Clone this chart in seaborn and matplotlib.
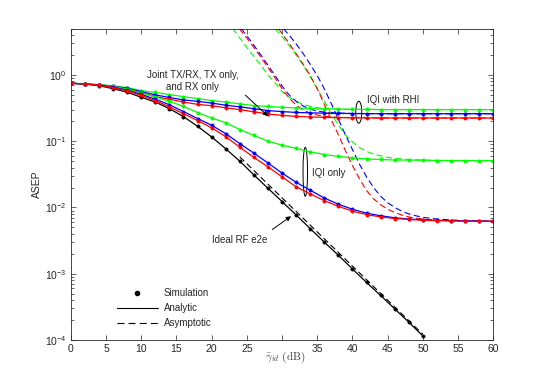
import numpy as np
import pandas as pd
import seaborn as sns
import matplotlib.pyplot as plt
from matplotlib.patches import Ellipse
from matplotlib.lines import Line2D
from matplotlib.ticker import LogLocator, LogFormatterMathtext, NullFormatter

# SNR grid (dB)
snr_db = list(range(0, 61, 2))
snr_ideal = list(range(0, 51, 2))

# ideal RF end-to-end (simulation / analytic)
ideal = [0.75, 0.73, 0.69, 0.62, 0.55, 0.46, 0.39, 0.31, 0.235, 0.168, 0.116, 0.077, 0.050,
         0.031, 0.0195, 0.0123, 0.0077, 0.0048, 0.0030, 0.0019, 0.00118, 0.00074, 0.00047,
         0.000295, 0.000186, 0.000115]

# IQI with RHI (green = joint TX/RX, blue = TX only, red = RX only)
rhi_green = [0.75, 0.735, 0.715, 0.685, 0.645, 0.58, 0.545, 0.505, 0.47, 0.44, 0.41, 0.39, 0.365,
             0.345, 0.335, 0.325, 0.318, 0.312, 0.308, 0.305, 0.303, 0.302, 0.301, 0.30, 0.30,
             0.30, 0.30, 0.30, 0.30, 0.30, 0.30]
rhi_blue = [0.75, 0.73, 0.71, 0.675, 0.63, 0.56, 0.50, 0.457, 0.42, 0.40, 0.376, 0.35, 0.33,
            0.31, 0.29, 0.28, 0.272, 0.268, 0.265, 0.263, 0.262, 0.261, 0.26, 0.26, 0.26,
            0.26, 0.26, 0.26, 0.26, 0.26, 0.26]
rhi_red = [0.75, 0.73, 0.705, 0.665, 0.615, 0.54, 0.47, 0.43, 0.39, 0.36, 0.343, 0.32, 0.30,
           0.278, 0.258, 0.245, 0.237, 0.232, 0.229, 0.227, 0.226, 0.225, 0.224, 0.224, 0.224,
           0.224, 0.224, 0.224, 0.224, 0.224, 0.224]

# IQI only
iqi_green = [0.75, 0.735, 0.71, 0.67, 0.61, 0.535, 0.465, 0.40, 0.335, 0.27, 0.224, 0.19, 0.15,
             0.122, 0.10, 0.087, 0.078, 0.069, 0.063, 0.059, 0.056, 0.054, 0.053, 0.052, 0.052,
             0.0515, 0.051, 0.051, 0.051, 0.051, 0.051]
iqi_blue = [0.75, 0.73, 0.705, 0.655, 0.59, 0.51, 0.43, 0.355, 0.28, 0.22, 0.174, 0.13, 0.092,
            0.066, 0.047, 0.033, 0.024, 0.0182, 0.0139, 0.0112, 0.0094, 0.0082, 0.0075, 0.0070,
            0.0067, 0.0065, 0.0064, 0.0063, 0.0063, 0.0062, 0.0062]
iqi_red = [0.75, 0.73, 0.70, 0.645, 0.575, 0.49, 0.41, 0.33, 0.26, 0.205, 0.159, 0.117, 0.081,
           0.057, 0.041, 0.029, 0.0205, 0.016, 0.0127, 0.0104, 0.0088, 0.0078, 0.0072, 0.0068,
           0.0066, 0.0064, 0.0063, 0.0063, 0.0062, 0.0062, 0.0062]

# asymptotic curves
asy_ideal_x = [24, 50]
asy_ideal = [0.058, 0.000122]

asy_rhi_green_x = [23, 24, 25, 26, 27, 28, 29, 30, 31, 32, 33, 34, 35, 36, 38, 40, 45, 60]
asy_rhi_green = [5.0, 3.6, 2.6, 1.9, 1.4, 1.0, 0.76, 0.56, 0.46, 0.40, 0.36, 0.335, 0.32, 0.312,
                 0.305, 0.302, 0.30, 0.30]
asy_rhi_blue_x = [24.2, 25, 26, 27, 28, 29, 30, 31, 32, 33, 34, 35, 36, 38, 40, 45, 60]
asy_rhi_blue = [5.0, 3.9, 2.8, 2.0, 1.4, 0.98, 0.68, 0.50, 0.40, 0.34, 0.305, 0.285, 0.275, 0.266,
                0.262, 0.26, 0.26]
asy_rhi_red_x = [23.9, 25, 26, 27, 28, 29, 30, 31, 32, 33, 34, 35, 36, 38, 40, 45, 60]
asy_rhi_red = [5.0, 3.6, 2.6, 1.85, 1.3, 0.9, 0.62, 0.45, 0.35, 0.295, 0.265, 0.248, 0.238, 0.23,
               0.226, 0.224, 0.224]

asy_iqi_green_x = [29, 30, 31, 32, 33, 34, 35, 36, 37, 38, 39, 40, 41, 42, 43, 44, 45, 46, 48, 50,
                   55, 60]
asy_iqi_green = [5.0, 3.8, 2.8, 2.0, 1.4, 0.95, 0.62, 0.40, 0.26, 0.175, 0.125, 0.097, 0.080,
                 0.070, 0.064, 0.060, 0.057, 0.055, 0.053, 0.052, 0.051, 0.051]
asy_iqi_blue_x = [30.2, 31, 32, 33, 34, 35, 36, 37, 38, 39, 40, 41, 42, 43, 44, 45, 46, 47, 48, 49,
                  50, 52, 55, 60]
asy_iqi_blue = [5.0, 4.0, 2.95, 2.1, 1.45, 0.98, 0.62, 0.37, 0.215, 0.125, 0.075, 0.045, 0.029,
                0.020, 0.0148, 0.0118, 0.0100, 0.0088, 0.0080, 0.0075, 0.0071, 0.0067, 0.0064,
                0.0062]
asy_iqi_red_x = [29.5, 30, 31, 32, 33, 34, 35, 36, 37, 38, 39, 40, 41, 42, 43, 44, 45, 46, 47, 48,
                 49, 50, 52, 55, 60]
asy_iqi_red = [5.0, 4.2, 3.0, 2.1, 1.45, 0.98, 0.62, 0.36, 0.21, 0.125, 0.072, 0.043, 0.027, 0.018,
               0.0135, 0.011, 0.0094, 0.0084, 0.0077, 0.0072, 0.0069, 0.0067, 0.0064, 0.0063,
               0.0062]

GREEN, BLUE, RED, BLACK = "#00ff00", "#0000ff", "#ff0000", "#000000"

sns.set_style("ticks")
plt.rcParams["font.family"] = ["Liberation Sans", "DejaVu Sans"]
plt.rcParams["mathtext.fontset"] = "dejavusans"
plt.rcParams["lines.scale_dashes"] = False

fig = plt.figure(figsize=(5.45, 3.82), dpi=100)
ax = fig.add_axes([0.13, 0.11, 0.775, 0.815])

dash = (0, (4.5, 2.5))

def solid(x, y, c):
    sns.lineplot(x=x, y=y, color=c, lw=0.9, marker="o", ms=2.4, mec=c, mew=0.4, ax=ax)

def asym(x, y, c):
    sns.lineplot(x=x, y=y, color=c, lw=0.8, linestyle=dash, ax=ax)

for x, y, c in [(asy_rhi_green_x, asy_rhi_green, GREEN), (asy_rhi_blue_x, asy_rhi_blue, BLUE),
                (asy_rhi_red_x, asy_rhi_red, RED), (asy_iqi_green_x, asy_iqi_green, GREEN),
                (asy_iqi_blue_x, asy_iqi_blue, BLUE), (asy_iqi_red_x, asy_iqi_red, RED),
                (asy_ideal_x, asy_ideal, BLACK)]:
    asym(x, y, c)

solid(snr_ideal, ideal, BLACK)
for y, c in [(rhi_green, GREEN), (rhi_blue, BLUE), (rhi_red, RED),
             (iqi_green, GREEN), (iqi_blue, BLUE), (iqi_red, RED)]:
    solid(snr_db, y, c)

ax.set_yscale("log")
ax.set_xlim(0, 60)
ax.set_ylim(1e-4, 5)
ax.set_xticks(range(0, 61, 5))
ax.set_xticklabels([str(v) if v != 30 else "" for v in range(0, 61, 5)])
ax.yaxis.set_major_locator(LogLocator(base=10, numticks=10))
ax.yaxis.set_major_formatter(LogFormatterMathtext())
ax.yaxis.set_minor_locator(LogLocator(base=10, subs=np.arange(2, 10), numticks=20))
ax.yaxis.set_minor_formatter(NullFormatter())
ax.tick_params(which="both", direction="in", top=True, right=True, labelsize=7.5,
               width=0.5, colors="#262626", pad=3)
ax.tick_params(which="major", length=3.5)
ax.tick_params(which="minor", length=2)
for s in ax.spines.values():
    s.set_linewidth(0.6)
    s.set_color("#262626")

ax.set_ylabel("ASEP", fontsize=7.5, labelpad=2)
ax.set_xlabel(r"$\bar{\gamma}_{id}\ \mathrm{(dB)}$", fontsize=8, math_fontfamily="cm",
              color="#404040")
ax.xaxis.set_label_coords(0.508, -0.032)

# annotations
ax.text(17.3, 0.80, "Joint TX/RX, TX only,\nand RX only", ha="center", va="center",
        fontsize=7, linespacing=1.25)
ax.annotate("", xy=(28.3, 0.224), xytext=(24.5, 0.53),
            arrowprops=dict(arrowstyle="-|>", color="k", lw=0.7, mutation_scale=7))
ax.text(42.0, 0.42, "IQI with RHI", ha="left", va="center", fontsize=7)
ax.text(34.2, 0.0335, "IQI only", ha="left", va="center", fontsize=7)
ax.text(20.1, 0.0032, "Ideal RF e2e", ha="left", va="center", fontsize=7)
ax.annotate("", xy=(31.6, 0.0078), xytext=(28.3, 0.0044),
            arrowprops=dict(arrowstyle="-|>", color="k", lw=0.7, mutation_scale=7))

ax_w, ax_h = 0.775 * 545, 0.815 * 382
to_axes = ax.transAxes.inverted()
for (xc, yc), w, h in [((40.9, 0.274), 6, 22), ((33.3, 0.0346), 4.5, 49)]:
    cx, cy = to_axes.transform(ax.transData.transform((xc, yc)))
    ax.add_patch(Ellipse((cx, cy), w / ax_w, h / ax_h, transform=ax.transAxes,
                         fill=False, lw=0.7, ec="k"))

handles = [Line2D([], [], color="k", marker="o", ms=3, ls="none"),
           Line2D([], [], color="k", lw=0.8),
           Line2D([], [], color="k", lw=0.8, ls=(0, (5, 3)))]
ax.legend(handles, ["Simulation", "Analytic", "Asymptotic"], loc="upper left",
          bbox_to_anchor=(0.1, 0.178), frameon=False, fontsize=7, handlelength=4.2,
          handletextpad=0.6, labelspacing=0.5, borderaxespad=0)

fig.savefig("out.png", dpi=100)
